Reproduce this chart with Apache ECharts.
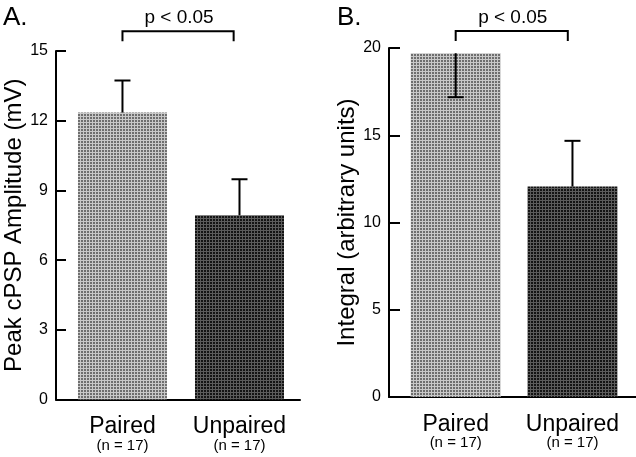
<!DOCTYPE html>
<html>
<head>
<meta charset="utf-8">
<script src="https://cdn.jsdelivr.net/npm/echarts@6/dist/echarts.min.js"></script>
<style>
html,body{margin:0;padding:0;background:#fff;}
#chart{width:636px;height:457px;}
</style>
</head>
<body>
<div id="chart"></div>
<script>
// ---- data ----
var categories = ['Paired', 'Unpaired'];
var nLabels = ['(n = 17)', '(n = 17)'];
var meansA = [12.35, 7.93];
var errEndA = [13.73, 9.48];
var meansB = [19.7, 12.06];
var errEndB = [17.18, 14.68];
var yTitleA = 'Peak cPSP Amplitude (mV)';
var yTitleB = 'Integral (arbitrary units)';
var panelLabels = ['A.', 'B.'];
var sigText = 'p < 0.05';
var bracketA = [0, 0.95, 15.85];
var bracketB = [0, 0.96, 20.98];

var FONT = '"Liberation Sans", Arial, Helvetica, sans-serif';

function makePattern(dark, light) {
  var cv = document.createElement('canvas');
  cv.width = 3; cv.height = 3;
  var ctx = cv.getContext('2d');
  ctx.fillStyle = light; ctx.fillRect(0, 0, 3, 3);
  ctx.fillStyle = dark; ctx.fillRect(0, 0, 2, 2);
  return cv;
}
var fillPaired = { image: makePattern('#6e6e6e', '#c8c8c8'), repeat: 'repeat' };
var fillUnpaired = { image: makePattern('#141414', '#5c5c5c'), repeat: 'repeat' };

function barData(means) {
  return means.map(function (v, i) {
    return { value: [i, v], itemStyle: { color: i === 0 ? fillPaired : fillUnpaired } };
  });
}
function errData(means, ends) {
  return means.map(function (v, i) { return [i, v, ends[i]]; });
}
function renderErr(params, api) {
  var p0 = api.coord([api.value(0), api.value(1)]);
  var p1 = api.coord([api.value(0), api.value(2)]);
  var h = 8;
  var st = { stroke: '#000', lineWidth: 2 };
  return {
    type: 'group',
    children: [
      { type: 'line', shape: { x1: p0[0], y1: p0[1], x2: p1[0], y2: p1[1] }, style: st },
      { type: 'line', shape: { x1: p1[0] - h, y1: p1[1], x2: p1[0] + h, y2: p1[1] }, style: st }
    ]
  };
}
function renderBracket(params, api) {
  var a = api.coord([api.value(0), api.value(2)]);
  var b = api.coord([api.value(1), api.value(2)]);
  var drop = 10;
  return {
    type: 'group',
    children: [
      { type: 'polyline', shape: { points: [[a[0], a[1] + drop], [a[0], a[1]], [b[0], b[1]], [b[0], b[1] + drop]] },
        style: { stroke: '#000', lineWidth: 2, fill: null } },
      { type: 'text', x: (a[0] + b[0]) / 2 + 1, y: a[1] - 4,
        style: { text: sigText, fill: '#000', font: '19px ' + FONT, align: 'center', verticalAlign: 'bottom' } }
    ]
  };
}
function xAxisCfg(grid, min, max) {
  return {
    type: 'value', gridIndex: grid, min: min, max: max,
    axisLine: { show: true, onZero: false, lineStyle: { color: '#000', width: 2 } },
    axisTick: { show: false },
    splitLine: { show: false },
    axisLabel: {
      customValues: [0, 1],
      margin: 17,
      formatter: function (v) { var i = Math.round(v); return '{a|' + categories[i] + '}\n{b|' + nLabels[i] + '}'; },
      rich: {
        a: { fontSize: 23, lineHeight: 21, fontFamily: FONT, color: '#000', align: 'center' },
        b: { fontSize: 15, lineHeight: 16, fontFamily: FONT, color: '#000', align: 'center' }
      }
    }
  };
}
function yAxisCfg(grid, max, interval, name, gap, fs, tickLen) {
  return {
    type: 'value', gridIndex: grid, min: 0, max: max, interval: interval,
    name: name, nameLocation: 'middle', nameGap: gap,
    nameTextStyle: { fontSize: 24, fontFamily: FONT, color: '#000' },
    axisLine: { show: true, onZero: false, lineStyle: { color: '#000', width: 2 } },
    axisTick: { show: true, inside: true, length: tickLen, lineStyle: { color: '#000', width: 2 } },
    splitLine: { show: false },
    axisLabel: { fontSize: fs, fontFamily: FONT, color: '#000', margin: 8 }
  };
}

var chart = echarts.init(document.getElementById('chart'), null, { renderer: 'canvas' });
chart.setOption({
  backgroundColor: '#fff',
  animation: false,
  graphic: [
    { type: 'text', left: 3, top: 5, style: { text: panelLabels[0], font: '26px ' + FONT, fill: '#000' } },
    { type: 'text', left: 337, top: 5, style: { text: panelLabels[1], font: '26px ' + FONT, fill: '#000' } }
  ],
  grid: [
    { left: 56, top: 51, width: 244, height: 348.5 },
    { left: 389, top: 48, width: 247, height: 349 }
  ],
  xAxis: [xAxisCfg(0, -0.568, 1.517), xAxisCfg(1, -0.571, 1.544)],
  yAxis: [
    yAxisCfg(0, 15, 3, yTitleA, 26, 16, 10),
    yAxisCfg(1, 20, 5, yTitleB, 22, 16, 11)
  ],
  series: [
    { type: 'bar', xAxisIndex: 0, yAxisIndex: 0, barWidth: 89, data: barData(meansA) },
    { type: 'bar', xAxisIndex: 1, yAxisIndex: 1, barWidth: 90, data: barData(meansB) },
    { type: 'custom', xAxisIndex: 0, yAxisIndex: 0, renderItem: renderErr, data: errData(meansA, errEndA), z: 5 },
    { type: 'custom', xAxisIndex: 1, yAxisIndex: 1, renderItem: renderErr, data: errData(meansB, errEndB), z: 5 },
    { type: 'custom', xAxisIndex: 0, yAxisIndex: 0, renderItem: renderBracket, data: [bracketA], clip: false, z: 5 },
    { type: 'custom', xAxisIndex: 1, yAxisIndex: 1, renderItem: renderBracket, data: [bracketB], clip: false, z: 5 }
  ]
});
</script>
</body>
</html>
